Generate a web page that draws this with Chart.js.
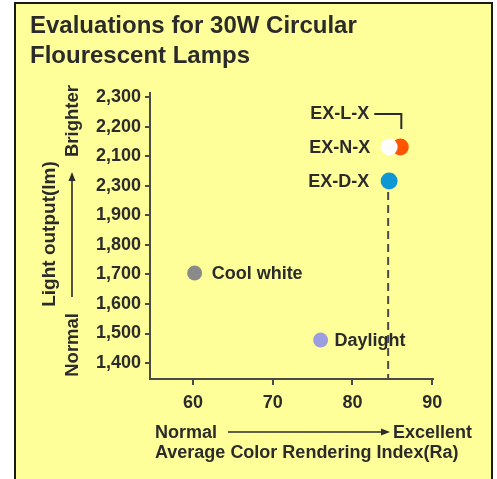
<!DOCTYPE html>
<html lang="en">
<head>
  <meta charset="UTF-8" />
  <title>Evaluations for 30W Circular Flourescent Lamps</title>
  <script src="https://cdn.jsdelivr.net/npm/chart.js"></script>
  <style>
    body {
      margin: 0;
      background: #ffffff;
      width: 497px;
      height: 479px;
      overflow: hidden;
      position: relative;
    }
    /* yellow panel with dark frame, bottom edge runs off the picture */
    .panel {
      position: absolute;
      left: 14px;
      top: 2px;
      width: 475px;
      height: 500px;
      background: #ffff99;
      border: 2px solid #1a1a1a;
      border-bottom: none;
    }
    #lampChart {
      position: absolute;
      left: 0;
      top: 0;
    }
  </style>
</head>
<body>
<div class="panel"></div>
<canvas id="lampChart" width="497" height="479"></canvas>

<script>
  // data
  const lampNames = ['Cool white', 'Daylight', 'EX-D-X', 'EX-L-X', 'EX-N-X'];
  const criValues = [60.2, 76.0, 84.6, 86.0, 84.6];        // Ra
  const lumenValues = [1705, 1478, 2016, 2131, 2131];      // lm
  const xTickValues = [60, 70, 80, 90];
  const yTickValues = [1400, 1500, 1600, 1700, 1800, 1900, 2000, 2100, 2200, 2300];
  // the source prints 2,300 where 2,000 should be; kept as printed
  const yTickLabels = ['1,400', '1,500', '1,600', '1,700', '1,800', '1,900', '2,300', '2,100', '2,200', '2,300'];

  const pointColors = ['#8a8a8a', '#9c9ce0', '#0e97d2', '#ff5500', '#ffffff'];
  const pointSizes = [7.5, 7.5, 8.5, 8.5, 8.5];

  const FONT = '"Liberation Sans", Arial, sans-serif';
  const INK = '#2b2b2b';
  const AXIS = '#4a4a4a';

  Chart.defaults.font.family = FONT;

  // label offsets from each point (pixels)
  const labelSpots = [
    { dx: 17, dy: 1, align: 'left' },
    { dx: 14, dy: 1, align: 'left' },
    { dx: -20, dy: 1, align: 'right' },
    { dx: -31, dy: -33, align: 'right' },
    { dx: -19, dy: 1, align: 'right' }
  ];

  function arrow(ctx, x1, y1, x2, y2) {
    const ang = Math.atan2(y2 - y1, x2 - x1);
    const head = 9;
    ctx.beginPath();
    ctx.moveTo(x1, y1);
    ctx.lineTo(x2 - Math.cos(ang) * head * 0.8, y2 - Math.sin(ang) * head * 0.8);
    ctx.stroke();
    ctx.beginPath();
    ctx.moveTo(x2, y2);
    ctx.lineTo(x2 - Math.cos(ang) * head - Math.sin(ang) * 3.5, y2 - Math.sin(ang) * head + Math.cos(ang) * 3.5);
    ctx.lineTo(x2 - Math.cos(ang) * head + Math.sin(ang) * 3.5, y2 - Math.sin(ang) * head - Math.cos(ang) * 3.5);
    ctx.closePath();
    ctx.fill();
  }

  const decorPlugin = {
    id: 'decor',
    beforeDatasetsDraw(chart) {
      // dashed drop line under EX-D-X
      const ctx = chart.ctx;
      const meta = chart.getDatasetMeta(0);
      const p = meta.data[lampNames.indexOf('EX-D-X')];
      ctx.save();
      ctx.strokeStyle = AXIS;
      ctx.lineWidth = 2;
      ctx.setLineDash([8, 5]);
      ctx.beginPath();
      ctx.moveTo(p.x - 1, p.y + 11);
      ctx.lineTo(p.x - 1, chart.chartArea.bottom);
      ctx.stroke();
      ctx.restore();
    },
    afterDraw(chart) {
      const ctx = chart.ctx;
      const meta = chart.getDatasetMeta(0);
      ctx.save();
      ctx.fillStyle = INK;
      ctx.strokeStyle = INK;

      // title
      ctx.font = 'bold 24px ' + FONT;
      ctx.textAlign = 'left';
      ctx.textBaseline = 'alphabetic';
      ctx.fillText('Evaluations for 30W Circular', 30, 33);
      ctx.fillText('Flourescent Lamps', 30, 63);

      // point labels
      ctx.font = 'bold 18px ' + FONT;
      ctx.textBaseline = 'middle';
      lampNames.forEach((name, i) => {
        const pt = meta.data[i];
        const s = labelSpots[i];
        ctx.textAlign = s.align;
        ctx.fillText(name, pt.x + s.dx, pt.y + s.dy);
      });

      // bracket from EX-L-X label to its point
      const lp = meta.data[lampNames.indexOf('EX-L-X')];
      ctx.lineWidth = 2;
      ctx.beginPath();
      ctx.moveTo(lp.x - 26, lp.y - 33);
      ctx.lineTo(lp.x + 1, lp.y - 33);
      ctx.lineTo(lp.x + 1, lp.y - 18);
      ctx.stroke();

      // x axis title
      ctx.textBaseline = 'alphabetic';
      ctx.textAlign = 'left';
      ctx.fillText('Normal', 155, 438);
      ctx.fillText('Average Color Rendering Index(Ra)', 155, 458);
      ctx.textAlign = 'right';
      ctx.fillText('Excellent', 472, 438);
      ctx.lineWidth = 1.6;
      arrow(ctx, 228, 432, 390, 432);

      // y axis title (rotated)
      ctx.save();
      ctx.translate(55, 234);
      ctx.rotate(-Math.PI / 2);
      ctx.textAlign = 'center';
      ctx.font = 'bold 19px ' + FONT;
      ctx.fillText('Light output(lm)', 0, 0);
      ctx.restore();

      ctx.save();
      ctx.translate(78, 0);
      ctx.rotate(-Math.PI / 2);
      ctx.font = 'bold 18.5px ' + FONT;
      ctx.textAlign = 'left';
      ctx.fillText('Brighter', -157, 0);
      ctx.textAlign = 'right';
      ctx.fillText('Normal', -313, 0);
      ctx.restore();
      ctx.lineWidth = 1.6;
      arrow(ctx, 72, 297, 72, 172);

      ctx.restore();
    }
  };

  new Chart(document.getElementById('lampChart'), {
    type: 'scatter',
    data: {
      datasets: [{
        data: criValues.map((x, i) => ({ x: x, y: lumenValues[i] })),
        pointBackgroundColor: pointColors,
        pointBorderWidth: 0,
        pointRadius: pointSizes,
        pointHoverRadius: pointSizes
      }]
    },
    options: {
      responsive: false,
      animation: false,
      layout: { padding: { top: 93, right: 64, left: 0, bottom: 0 } },
      plugins: {
        legend: { display: false },
        tooltip: { enabled: false }
      },
      scales: {
        x: {
          type: 'linear',
          min: 54.6,
          max: 90.1,
          afterBuildTicks: (scale) => { scale.ticks = xTickValues.map(v => ({ value: v })); },
          afterFit: (scale) => { scale.height = 100; },
          grid: { drawOnChartArea: false, color: AXIS, lineWidth: 2, tickLength: 6 },
          border: { color: AXIS, width: 2 },
          ticks: {
            color: INK,
            padding: 7,
            maxRotation: 0,
            font: { size: 18, weight: 'bold' }
          }
        },
        y: {
          type: 'linear',
          min: 1346,
          max: 2314,
          afterBuildTicks: (scale) => { scale.ticks = yTickValues.map(v => ({ value: v })); },
          afterFit: (scale) => { scale.width = 150; },
          grid: { drawOnChartArea: false, color: AXIS, lineWidth: 2, tickLength: 5 },
          border: { color: AXIS, width: 2 },
          ticks: {
            color: INK,
            padding: 4,
            font: { size: 18, weight: 'bold' },
            callback: (value) => yTickLabels[yTickValues.indexOf(value)]
          }
        }
      }
    },
    plugins: [decorPlugin]
  });
</script>
</body>
</html>
